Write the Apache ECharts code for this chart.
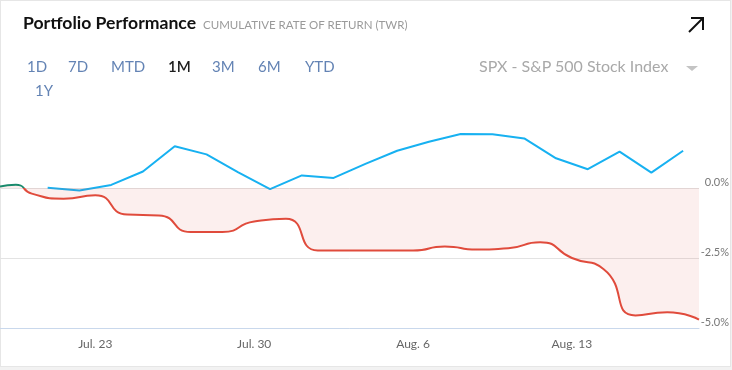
<!DOCTYPE html>
<html><head><meta charset="utf-8">
<script src="https://cdn.jsdelivr.net/npm/echarts@6/dist/echarts.min.js"></script>
<style>
html,body{margin:0;padding:0;background:#f2f2f2;width:732px;height:370px;overflow:hidden;font-family:Lato,sans-serif}
#card{position:absolute;left:0;top:0;width:731px;height:367px;box-sizing:border-box;border:1px solid #e6e6e6;background:#fff}
#chart{position:absolute;left:0;top:0;width:732px;height:370px}
.t{position:absolute;white-space:nowrap;line-height:1}
.tab{font-size:15px;color:#6383b4}
</style></head><body>
<div id="card"></div>
<div id="chart"></div>
<div class="t" style="left:23px;top:14px;font-size:17.6px;font-weight:700;color:#111">Portfolio Performance</div>
<div class="t" style="left:203px;top:19px;font-size:11.5px;color:#9a9a9a">CUMULATIVE RATE OF RETURN (TWR)</div>
<div id="tabs"></div>
<div class="t" style="left:479px;top:58px;font-size:16px;color:#a9a9a9">SPX - S&amp;P 500 Stock Index</div>
<script>
// ---- data ----
const tradingDays = ['Jul. 18','Jul. 19','Jul. 20','Jul. 23','Jul. 24','Jul. 25','Jul. 26','Jul. 27',
  'Jul. 30','Jul. 31','Aug. 1','Aug. 2','Aug. 3','Aug. 6','Aug. 7','Aug. 8','Aug. 9','Aug. 10',
  'Aug. 13','Aug. 14','Aug. 15','Aug. 16','Aug. 17'];
const tickLabels = ['Jul. 23','Jul. 30','Aug. 6','Aug. 13'];
const periodTabs = ['1D','7D','MTD','1M','3M','6M','YTD','1Y'];
const activeTab = '1M';

const portfolioDay = [0,0.5,1,2,3,4,5,6,7,8,9,10,11,12,13,14,15,16,17,18,19,20,21,22];
const portfolioReturn = [0.05,0.12,-0.20,-0.38,-0.26,-0.95,-0.98,-1.57,-1.57,-1.20,-1.10,-2.23,-2.23,-2.23,-2.23,
  -2.09,-2.20,-2.15,-1.94,-2.50,-2.90,-4.55,-4.44,-4.70];

const benchmarkDay = [1.5,2.5,3.5,4.5,5.5,6.5,7.5,8.5,9.5,10.5,11.5,12.5,13.5,14.5,15.5,16.5,17.5,18.5,19.5,20.5,21.5];
const benchmarkReturn = [0.01,-0.09,0.11,0.59,1.49,1.20,0.56,-0.04,0.45,0.36,0.86,1.33,1.65,1.93,1.92,1.77,1.06,0.67,1.30,0.55,1.33];

// ---- tabs ----
const tabPos = [[27,59],[68,59],[111,59],[168,59],[212,59],[258,59],[305,59],[35,83]];
const tabsEl = document.getElementById('tabs');
periodTabs.forEach((t,i)=>{
  const d = document.createElement('div');
  d.className = 't tab';
  d.textContent = t;
  d.style.left = tabPos[i][0]+'px';
  d.style.top = tabPos[i][1]+'px';
  if (t === activeTab) { d.style.color = '#1d1d1d'; d.style.fontWeight = '600'; }
  tabsEl.appendChild(d);
});

// ---- chart ----
const tickDays = tickLabels.map(l => tradingDays.indexOf(l));
const chart = echarts.init(document.getElementById('chart'));
chart.setOption({
  animation: false,
  grid: {left: 0, right: 33, top: 118, bottom: 42},
  xAxis: {
    type: 'value', min: 0, max: tradingDays.length - 1,
    axisLine: {show: true, onZero: false, lineStyle: {color: '#c9d8ec', width: 1}},
    axisTick: {show: false},
    splitLine: {show: false},
    axisLabel: {
      customValues: tickDays,
      formatter: v => tradingDays[Math.round(v)],
      color: '#666', fontSize: 12, fontFamily: 'Lato', margin: 10
    }
  },
  yAxis: {
    type: 'value', position: 'right', min: -5, max: 2.5, interval: 2.5,
    axisLine: {show: false}, axisTick: {show: false},
    splitLine: {show: true, showMaxLine: false, lineStyle: {color: '#e3e3e3'}},
    axisLabel: {
      showMaxLabel: false,
      formatter: v => v.toFixed(1) + '%',
      align: 'right', margin: 30, verticalAlign: 'bottom',
      color: '#777', fontSize: 11, fontFamily: 'Lato'
    }
  },
  visualMap: {
    show: false, type: 'piecewise', seriesIndex: 0, dimension: 1,
    pieces: [{gt: 0, lte: 10, color: '#198a6c'}, {gte: -10, lte: 0, color: '#e04b3c'}]
  },
  graphic: [
    {type: 'polyline', shape: {points: [[689,32],[703,18]]}, style: {stroke: '#111', lineWidth: 2}},
    {type: 'polyline', shape: {points: [[691,18],[703,18],[703,30]]}, style: {stroke: '#111', lineWidth: 2, fill: null}},
    {type: 'polygon', shape: {points: [[686,66],[698,66],[692,71]]}, style: {fill: '#c4c4c4'}}
  ],
  series: [
    {
      name: 'Portfolio', type: 'line',
      data: portfolioDay.map((d, i) => [d, portfolioReturn[i]]),
      smooth: 0.6, symbol: 'none',
      lineStyle: {width: 2},
      areaStyle: {color: 'rgba(223,74,60,0.12)', origin: 0},
      z: 3
    },
    {
      name: 'SPX', type: 'line',
      data: benchmarkDay.map((d, i) => [d, benchmarkReturn[i]]),
      smooth: false, symbol: 'none',
      lineStyle: {width: 2, color: '#17b1f1'},
      itemStyle: {color: '#17b1f1'},
      z: 2
    }
  ]
});
</script>
</body></html>
